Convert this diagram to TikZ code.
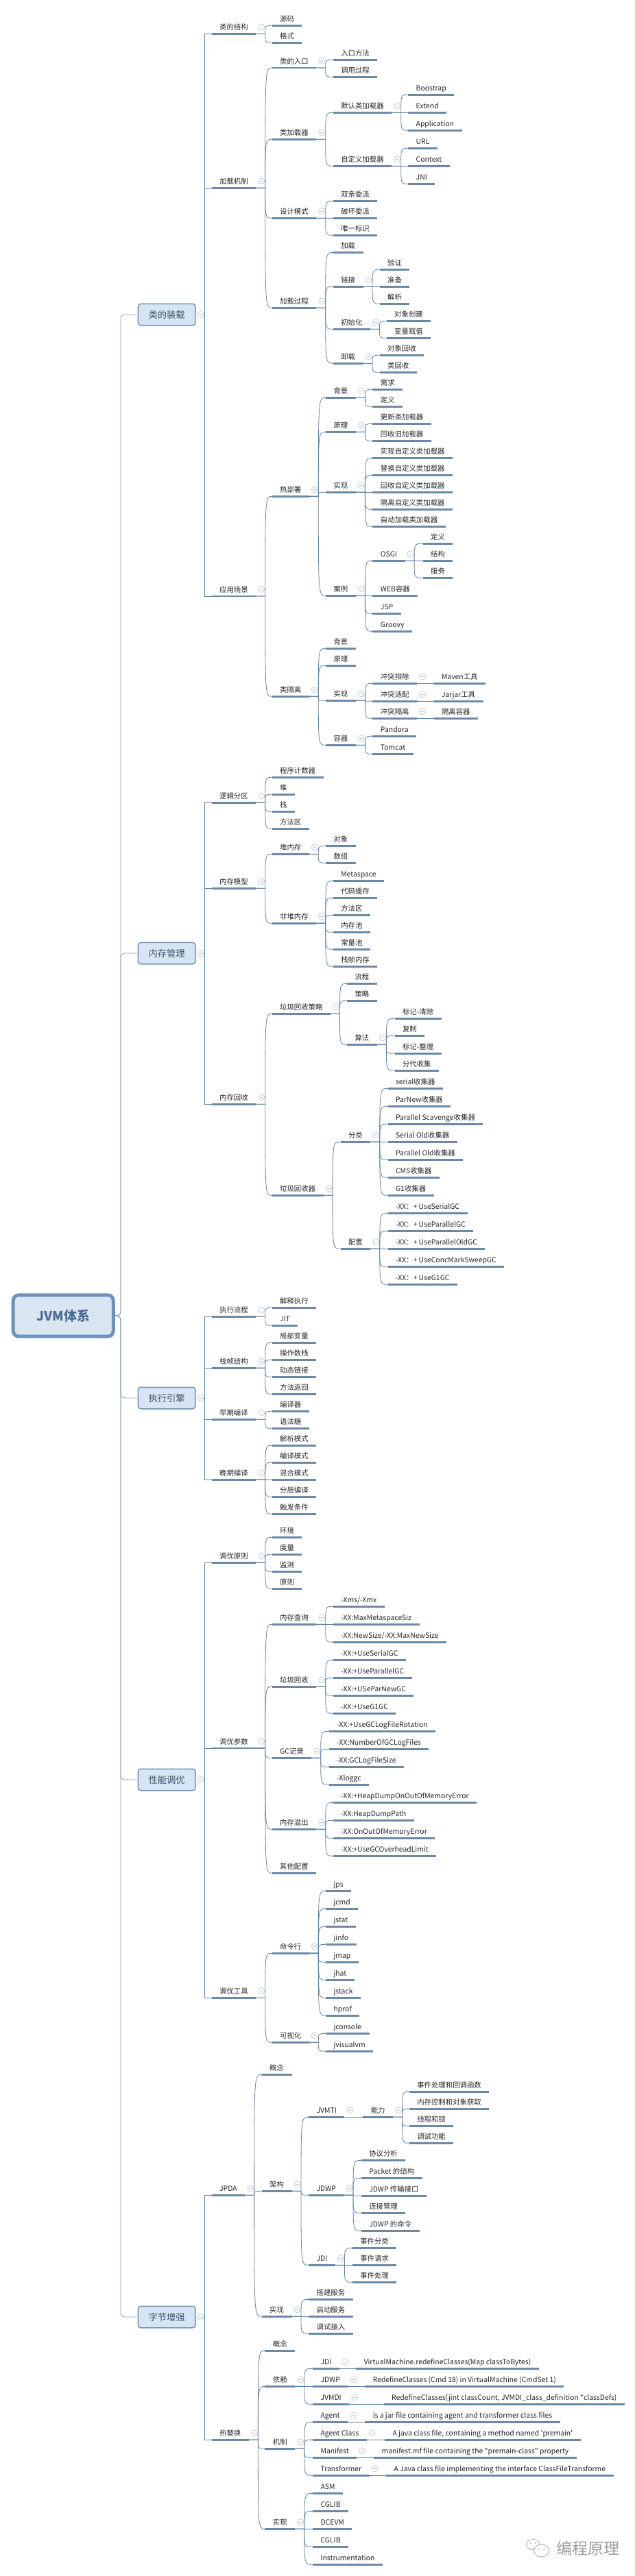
\documentclass[tikz,border=0pt]{standalone}
\usepackage{fontspec}
\setmainfont{Noto Sans CJK SC}
\newfontfamily\itemfont{Noto Sans CJK SC}
\usetikzlibrary{calc}

\definecolor{barblue}{HTML}{6B89A6}
\definecolor{linkblue}{HTML}{5F829F}
\definecolor{trunkblue}{HTML}{7F9DB8}
\definecolor{foldgrey}{HTML}{BCC6D0}
\definecolor{boxfill}{HTML}{D7E4F4}
\definecolor{boxline}{HTML}{6F92B4}
\definecolor{boxtext}{HTML}{3C5269}
\definecolor{rootfill}{HTML}{DAE5F2}
\definecolor{rootline}{HTML}{6D93BC}
\definecolor{roottext}{HTML}{4B6C92}
\definecolor{markgrey}{HTML}{9C9C9C}

\begin{document}
\begin{tikzpicture}[
    x=0.993pt, y=-1pt,
    foldmark/.style={circle, draw=foldgrey, fill=white, line width=0.7pt, minimum size=9pt, inner sep=0pt,
        path picture={\draw[foldgrey, line width=0.7pt] ([xshift=-2.2pt]path picture bounding box.center) -- ([xshift=2.2pt]path picture bounding box.center);}},
    item/.style={anchor=south west, outer sep=0pt, inner xsep=11.5pt, inner ysep=3.5pt, text height=9pt, text depth=2.5pt,
        font=\itemfont\fontsize{10.4pt}{12pt}\selectfont, text=black!85,
        append after command={(\tikzlastnode.south west) edge[line width=2.4pt, barblue] (\tikzlastnode.south east)}},
    fold/.style={append after command={node[foldmark] at ($(\tikzlastnode.south east)+(8,-10)$) {}}},
    topbox/.style={rounded corners=4pt, draw=boxline, fill=boxfill, line width=1.5pt, text=boxtext,
        minimum width=83.5pt, minimum height=31.5pt, inner sep=0pt, font=\fontsize{13.3pt}{16pt}\selectfont},
    curve/.style={to path={let \p1=(\tikztostart), \p2=(\tikztotarget) in
        -- (\x1+13.5pt,\y1) .. controls (\x1+13.5pt,\y2) .. (\p2)}},
    elbow/.style={to path={let \p1=(\tikztostart), \p2=(\tikztotarget) in
        -- (298.5pt,\y1) -- (298.5pt,\y2) -- (\p2)}},
    trunk/.style={to path={let \p1=(\tikztostart), \p2=(\tikztotarget) in
        -- (176pt,\y1) -- (176pt,\y2) -- (\p2)}},
    link/.style={linkblue, line width=0.8pt, every edge/.append style={curve}},
    firstlink/.style={linkblue, line width=0.8pt, every edge/.append style={elbow}},
    rootlink/.style={trunkblue, line width=0.8pt, every edge/.append style={trunk, rounded corners=6pt}}
]
    \useasboundingbox (0,0) rectangle (932.5,3759);

    % === Root ===
    \node[rounded corners=8pt, draw=rootline, fill=rootfill, line width=5pt, text=roottext, minimum width=146pt,
        minimum height=60.4pt, inner sep=0pt, font=\fontsize{19pt}{22pt}\selectfont\bfseries] (jvm) at (92.9,1920) {JVM体系};

    \node[topbox] (load) at (244.9,459) {类的装载};
    \node[topbox] (memory) at (244.9,1391) {内存管理};
    \node[topbox] (engine) at (244.9,2040) {执行引擎};
    \node[topbox] (tuning) at (244.9,2597) {性能调优};
    \node[topbox] (bytecode) at (244.9,3381) {字节增强};
    \draw[rootlink] (jvm.east) edge (load.west) edge (memory.west) edge (engine.west) edge (tuning.west) edge (bytecode.west);

    \node[foldmark] (loadFold) at ($(load.east)+(7,0)$) {};
    \node[foldmark] (memoryFold) at ($(memory.east)+(7,0)$) {};
    \node[foldmark] (engineFold) at ($(engine.east)+(7,0)$) {};
    \node[foldmark] (tuningFold) at ($(tuning.east)+(7,0)$) {};
    \node[foldmark] (bytecodeFold) at ($(bytecode.east)+(7,0)$) {};

    % === Class Loading ===
    \node[item, fold] (struct) at (310.8,49.3) {类的结构};
    \node[item, fold] (mech) at (310.8,274.3) {加载机制};
    \node[item, fold] (usage) at (310.8,870) {应用场景};
    \draw[firstlink] (loadFold.east) edge (struct.south west) edge (mech.south west) edge (usage.south west);

    \node[item] (source) at (399.4,37.3) {源码};
    \node[item] (format) at (399.4,62.3) {格式};
    \draw[link] (struct.south east) edge (source.south west) edge (format.south west);

    \node[item, fold] (entry) at (399.4,99) {类的入口};
    \node[item, fold] (loader) at (399.4,203.3) {类加载器};
    \node[item, fold] (pattern) at (399.4,318.3) {设计模式};
    \node[item, fold] (process) at (399.4,449.3) {加载过程};
    \draw[link] (mech.south east) edge (entry.south west) edge (loader.south west) edge (pattern.south west) edge (process.south west);

    \node[item] (entryMethod) at (489.2,87.3) {入口方法};
    \node[item] (entryCall) at (489.2,112.3) {调用过程};
    \draw[link] (entry.south east) edge (entryMethod.south west) edge (entryCall.south west);

    \node[item, fold] (defLoader) at (489.2,164.3) {默认类加载器};
    \node[item, fold] (ownLoader) at (489.2,242.3) {自定义加载器};
    \draw[link] (loader.south east) edge (defLoader.south west) edge (ownLoader.south west);

    \node[item] (boot) at (599.4,138.3) {Boostrap};
    \node[item] (extend) at (599.4,164.3) {Extend};
    \node[item] (app) at (599.4,190.3) {Application};
    \draw[link] (defLoader.south east) edge (boot.south west) edge (extend.south west) edge (app.south west);

    \node[item] (url) at (599.4,216.3) {URL};
    \node[item] (context) at (599.4,242.3) {Context};
    \node[item] (jni) at (599.4,268.3) {JNI};
    \draw[link] (ownLoader.south east) edge (url.south west) edge (context.south west) edge (jni.south west);

    \node[item] (parents) at (489.2,293.3) {双亲委派};
    \node[item] (breakParents) at (489.2,318.3) {破坏委派};
    \node[item] (uniqueId) at (489.2,343.3) {唯一标识};
    \draw[link] (pattern.south east) edge (parents.south west) edge (breakParents.south west) edge (uniqueId.south west);

    \node[item] (stepLoad) at (489.2,368.3) {加载};
    \node[item, fold] (stepLink) at (489.2,418.3) {链接};
    \node[item, fold] (stepInit) at (489.2,480.3) {初始化};
    \node[item, fold] (stepUnload) at (489.2,530.3) {卸载};
    \draw[link] (process.south east) edge (stepLoad.south west) edge (stepLink.south west) edge (stepInit.south west) edge (stepUnload.south west);

    \node[item] (verify) at (557.5,393.3) {验证};
    \node[item] (prepare) at (557.5,418.3) {准备};
    \node[item] (resolve) at (557.5,443.3) {解析};
    \draw[link] (stepLink.south east) edge (verify.south west) edge (prepare.south west) edge (resolve.south west);

    \node[item] (objCreate) at (567.7,468.3) {对象创建};
    \node[item] (varAssign) at (567.7,493.3) {变量赋值};
    \draw[link] (stepInit.south east) edge (objCreate.south west) edge (varAssign.south west);

    \node[item] (objFree) at (557.5,518.3) {对象回收};
    \node[item] (classFree) at (557.5,543.3) {类回收};
    \draw[link] (stepUnload.south east) edge (objFree.south west) edge (classFree.south west);

    \node[item, fold] (hot) at (399.4,724.3) {热部署};
    \node[item, fold] (isolate) at (399.4,1016.3) {类隔离};
    \draw[link] (usage.south east) edge (hot.south west) edge (isolate.south west);

    \node[item, fold] (hotBg) at (478.4,580.3) {背景};
    \node[item, fold] (hotTheory) at (478.4,630.3) {原理};
    \node[item, fold] (hotImpl) at (478.4,718.3) {实现};
    \node[item, fold] (hotCase) at (478.4,869.3) {案例};
    \draw[link] (hot.south east) edge (hotBg.south west) edge (hotTheory.south west) edge (hotImpl.south west) edge (hotCase.south west);

    \node[item] (need) at (547.3,568.3) {需求};
    \node[item] (define) at (547.3,593.3) {定义};
    \draw[link] (hotBg.south east) edge (need.south west) edge (define.south west);

    \node[item] (newLoader) at (547.3,618.3) {更新类加载器};
    \node[item] (oldLoader) at (547.3,643.3) {回收旧加载器};
    \draw[link] (hotTheory.south east) edge (newLoader.south west) edge (oldLoader.south west);

    \node[item] (implOwn) at (547.3,668.3) {实现自定义类加载器};
    \node[item] (swapOwn) at (547.3,693.3) {替换自定义类加载器};
    \node[item] (freeOwn) at (547.3,718.3) {回收自定义类加载器};
    \node[item] (isoOwn) at (547.3,743.3) {隔离自定义类加载器};
    \node[item] (autoLoad) at (547.3,768.3) {自动加载类加载器};
    \draw[link] (hotImpl.south east) edge (implOwn.south west) edge (swapOwn.south west) edge (freeOwn.south west) edge (isoOwn.south west) edge (autoLoad.south west);

    \node[item, fold] (osgi) at (547.3,818.3) {OSGI};
    \node[item] (web) at (547.3,869.3) {WEB容器};
    \node[item] (jsp) at (547.3,895.3) {JSP};
    \node[item] (groovy) at (547.3,921.3) {Groovy};
    \draw[link] (hotCase.south east) edge (osgi.south west) edge (web.south west) edge (jsp.south west) edge (groovy.south west);

    \node[item] (osgiDef) at (621,793.3) {定义};
    \node[item] (osgiStruct) at (621,818.3) {结构};
    \node[item] (osgiSvc) at (621,843.3) {服务};
    \draw[link] (osgi.south east) edge (osgiDef.south west) edge (osgiStruct.south west) edge (osgiSvc.south west);

    \node[item] (isoBg) at (478.4,946.3) {背景};
    \node[item] (isoTheory) at (478.4,971.3) {原理};
    \node[item, fold] (isoImpl) at (478.4,1022.3) {实现};
    \node[item, fold] (isoBox) at (478.4,1087.3) {容器};
    \draw[link] (isolate.south east) edge (isoBg.south west) edge (isoTheory.south west) edge (isoImpl.south west) edge (isoBox.south west);

    \node[item, fold] (clashOut) at (547.3,997.3) {冲突排除};
    \node[item, fold] (clashFit) at (547.3,1023.3) {冲突适配};
    \node[item, fold] (clashIso) at (547.3,1048.3) {冲突隔离};
    \draw[link] (isoImpl.south east) edge (clashOut.south west) edge (clashFit.south west) edge (clashIso.south west);

    \node[item] (maven) at (637,997.3) {Maven工具};
    \node[item] (jarjar) at (637,1023.3) {Jarjar工具};
    \node[item] (isoContainer) at (637,1048.3) {隔离容器};
    \draw[link] (clashOut.south east) edge (maven.south west);
    \draw[link] (clashFit.south east) edge (jarjar.south west);
    \draw[link] (clashIso.south east) edge (isoContainer.south west);

    \node[item] (pandora) at (547.3,1074.3) {Pandora};
    \node[item] (tomcat) at (547.3,1100.3) {Tomcat};
    \draw[link] (isoBox.south east) edge (pandora.south west) edge (tomcat.south west);

    % === Memory Management ===
    \node[item, fold] (logical) at (310.8,1171.3) {逻辑分区};
    \node[item, fold] (model) at (310.8,1296.3) {内存模型};
    \node[item, fold] (reclaim) at (310.8,1611.3) {内存回收};
    \draw[firstlink] (memoryFold.east) edge (logical.south west) edge (model.south west) edge (reclaim.south west);

    \node[item] (pc) at (399.4,1134.3) {程序计数器};
    \node[item] (heap) at (399.4,1159.3) {堆};
    \node[item] (stack) at (399.4,1184.3) {栈};
    \node[item] (methodArea) at (399.4,1209.3) {方法区};
    \draw[link] (logical.south east) edge (pc.south west) edge (heap.south west) edge (stack.south west) edge (methodArea.south west);

    \node[item, fold] (heapMem) at (399.4,1246.3) {堆内存};
    \node[item, fold] (offHeap) at (399.4,1347.3) {非堆内存};
    \draw[link] (model.south east) edge (heapMem.south west) edge (offHeap.south west);

    \node[item] (object) at (478.4,1234.3) {对象};
    \node[item] (array) at (478.4,1259.3) {数组};
    \draw[link] (heapMem.south east) edge (object.south west) edge (array.south west);

    \node[item] (meta) at (489.2,1285.3) {Metaspace};
    \node[item] (codeCache) at (489.2,1310.3) {代码缓存};
    \node[item] (offMethod) at (489.2,1335.3) {方法区};
    \node[item] (memPool) at (489.2,1360.3) {内存池};
    \node[item] (constPool) at (489.2,1385.3) {常量池};
    \node[item] (frameMem) at (489.2,1410.3) {栈帧内存};
    \draw[link] (offHeap.south east) edge (meta.south west) edge (codeCache.south west) edge (offMethod.south west) edge (memPool.south west) edge (constPool.south west) edge (frameMem.south west);

    \node[item, fold] (gcPolicy) at (399.4,1479.3) {垃圾回收策略};
    \node[item, fold] (collector) at (399.4,1744.3) {垃圾回收器};
    \draw[link] (reclaim.south east) edge (gcPolicy.south west) edge (collector.south west);

    \node[item] (gcFlow) at (509.6,1435.3) {流程};
    \node[item] (gcPlan) at (509.6,1460.3) {策略};
    \node[item, fold] (gcAlgo) at (509.6,1524.3) {算法};
    \draw[link] (gcPolicy.south east) edge (gcFlow.south west) edge (gcPlan.south west) edge (gcAlgo.south west);

    \node[item] (markSweep) at (579.6,1486.3) {标记-清除};
    \node[item] (gcCopy) at (579.6,1511.3) {复制};
    \node[item] (markCompact) at (579.6,1537.3) {标记-整理};
    \node[item] (genCollect) at (579.6,1562.3) {分代收集};
    \draw[link] (gcAlgo.south east) edge (markSweep.south west) edge (gcCopy.south west) edge (markCompact.south west) edge (genCollect.south west);

    \node[item, fold] (gcKinds) at (500,1666.3) {分类};
    \node[item, fold] (gcConfig) at (500,1822.3) {配置};
    \draw[link] (collector.south east) edge (gcKinds.south west) edge (gcConfig.south west);

    \node[item] (kSerial) at (569.5,1588.3) {serial收集器};
    \node[item] (kParNew) at (569.5,1614.3) {ParNew收集器};
    \node[item] (kScav) at (569.5,1640.3) {Parallel Scavenge收集器};
    \node[item] (kSerialOld) at (569.5,1666.3) {Serial Old收集器};
    \node[item] (kParOld) at (569.5,1692.3) {Parallel Old收集器};
    \node[item] (kCms) at (569.5,1718.3) {CMS收集器};
    \node[item] (kGone) at (569.5,1744.3) {G1收集器};
    \draw[link] (gcKinds.south east) edge (kSerial.south west) edge (kParNew.south west) edge (kScav.south west) edge (kSerialOld.south west) edge (kParOld.south west) edge (kCms.south west) edge (kGone.south west);

    \node[item] (cSerial) at (569.5,1770.3) {-XX：+ UseSerialGC};
    \node[item] (cParallel) at (569.5,1796.3) {-XX：+ UseParallelGC};
    \node[item] (cParOld) at (569.5,1822.3) {-XX：+ UseParallelOldGC};
    \node[item] (cCms) at (569.5,1848.3) {-XX：+ UseConcMarkSweepGC};
    \node[item] (cGone) at (569.5,1874.3) {-XX：+ UseG1GC};
    \draw[link] (gcConfig.south east) edge (cSerial.south west) edge (cParallel.south west) edge (cParOld.south west) edge (cCms.south west) edge (cGone.south west);

    % === Execution Engine ===
    \node[item, fold] (flow) at (310.8,1921.3) {执行流程};
    \node[item, fold] (frame) at (310.8,1996.3) {栈帧结构};
    \node[item, fold] (early) at (310.8,2071.3) {早期编译};
    \node[item, fold] (late) at (310.8,2159.3) {晚期编译};
    \draw[firstlink] (engineFold.east) edge (flow.south west) edge (frame.south west) edge (early.south west) edge (late.south west);

    \node[item] (interp) at (399.4,1908.3) {解释执行};
    \node[item] (jit) at (399.4,1934.3) {JIT};
    \draw[link] (flow.south east) edge (interp.south west) edge (jit.south west);

    \node[item] (localVar) at (399.4,1959.3) {局部变量};
    \node[item] (opStack) at (399.4,1984.3) {操作数栈};
    \node[item] (dynLink) at (399.4,2009.3) {动态链接};
    \node[item] (methodRet) at (399.4,2034.3) {方法返回};
    \draw[link] (frame.south east) edge (localVar.south west) edge (opStack.south west) edge (dynLink.south west) edge (methodRet.south west);

    \node[item] (compiler) at (399.4,2059.3) {编译器};
    \node[item] (sugar) at (399.4,2084.3) {语法糖};
    \draw[link] (early.south east) edge (compiler.south west) edge (sugar.south west);

    \node[item] (modeParse) at (399.4,2109.3) {解析模式};
    \node[item] (modeComp) at (399.4,2134.3) {编译模式};
    \node[item] (modeMix) at (399.4,2159.3) {混合模式};
    \node[item] (tiered) at (399.4,2184.3) {分层编译};
    \node[item] (trigger) at (399.4,2209.3) {触发条件};
    \draw[link] (late.south east) edge (modeParse.south west) edge (modeComp.south west) edge (modeMix.south west) edge (tiered.south west) edge (trigger.south west);

    % === Performance Tuning ===
    \node[item, fold] (rules) at (310.8,2280.3) {调优原则};
    \node[item, fold] (params) at (310.8,2551) {调优参数};
    \node[item, fold] (tools) at (310.8,2915.3) {调优工具};
    \draw[firstlink] (tuningFold.east) edge (rules.south west) edge (params.south west) edge (tools.south west);

    \node[item] (env) at (399.4,2243.3) {环境};
    \node[item] (measure) at (399.4,2268.3) {度量};
    \node[item] (monitor) at (399.4,2293.3) {监测};
    \node[item] (principle) at (399.4,2318.3) {原则};
    \draw[link] (rules.south east) edge (env.south west) edge (measure.south west) edge (monitor.south west) edge (principle.south west);

    \node[item, fold] (pMem) at (399.4,2370.3) {内存查询};
    \node[item, fold] (pGc) at (399.4,2461.3) {垃圾回收};
    \node[item, fold] (pLog) at (399.4,2565.3) {GC记录};
    \node[item, fold] (pOom) at (399.4,2669.3) {内存溢出};
    \node[item] (pOther) at (399.4,2733.3) {其他配置};
    \draw[link] (params.south east) edge (pMem.south west) edge (pGc.south west) edge (pLog.south west) edge (pOom.south west) edge (pOther.south west);

    \node[item] (xms) at (489.2,2344.3) {-Xms/-Xmx};
    \node[item] (maxMeta) at (489.2,2370.3) {-XX:MaxMetaspaceSiz};
    \node[item] (newSize) at (489.2,2396.3) {-XX:NewSize/-XX:MaxNewSize};
    \draw[link] (pMem.south east) edge (xms.south west) edge (maxMeta.south west) edge (newSize.south west);

    \node[item] (useSerial) at (489.2,2422.3) {-XX:+UseSerialGC};
    \node[item] (useParallel) at (489.2,2448.3) {-XX:+UseParallelGC};
    \node[item] (useParNew) at (489.2,2474.3) {-XX:+USeParNewGC};
    \node[item] (useGone) at (489.2,2500.3) {-XX:+UseG1GC};
    \draw[link] (pGc.south east) edge (useSerial.south west) edge (useParallel.south west) edge (useParNew.south west) edge (useGone.south west);

    \node[item] (logRotate) at (483.2,2526.3) {-XX:+UseGCLogFileRotation};
    \node[item] (logCount) at (483.2,2552.3) {-XX:NumberOfGCLogFiles};
    \node[item] (logSize) at (483.2,2578.3) {-XX:GCLogFileSize};
    \node[item] (logGc) at (483.2,2604.3) {-Xloggc};
    \draw[link] (pLog.south east) edge (logRotate.south west) edge (logCount.south west) edge (logSize.south west) edge (logGc.south west);

    \node[item] (dumpOn) at (489.2,2630.3) {-XX:+HeapDumpOnOutOfMemoryError};
    \node[item] (dumpPath) at (489.2,2656.3) {-XX:HeapDumpPath};
    \node[item] (onOom) at (489.2,2682.3) {-XX:OnOutOfMemoryError};
    \node[item] (overhead) at (489.2,2708.3) {-XX:+UseGCOverheadLimit};
    \draw[link] (pOom.south east) edge (dumpOn.south west) edge (dumpPath.south west) edge (onOom.south west) edge (overhead.south west);

    \node[item, fold] (cmdLine) at (399.4,2850.3) {命令行};
    \node[item, fold] (visual) at (399.4,2980.3) {可视化};
    \draw[link] (tools.south east) edge (cmdLine.south west) edge (visual.south west);

    \node[item] (jps) at (478.4,2759.3) {jps};
    \node[item] (jcmd) at (478.4,2785.3) {jcmd};
    \node[item] (jstat) at (478.4,2811.3) {jstat};
    \node[item] (jinfo) at (478.4,2837.3) {jinfo};
    \node[item] (jmap) at (478.4,2863.3) {jmap};
    \node[item] (jhat) at (478.4,2889.3) {jhat};
    \node[item] (jstack) at (478.4,2915.3) {jstack};
    \node[item] (hprof) at (478.4,2941.3) {hprof};
    \draw[link] (cmdLine.south east) edge (jps.south west) edge (jcmd.south west) edge (jstat.south west) edge (jinfo.south west) edge (jmap.south west) edge (jhat.south west) edge (jstack.south west) edge (hprof.south west);

    \node[item] (jconsole) at (478.4,2967.3) {jconsole};
    \node[item] (jvisualvm) at (478.4,2993.3) {jvisualvm};
    \draw[link] (visual.south east) edge (jconsole.south west) edge (jvisualvm.south west);

    % === Bytecode Enhancement ===
    \node[item, fold] (jpda) at (310.8,3203.3) {JPDA};
    \node[item, fold] (hotSwap) at (310.8,3560.3) {热替换};
    \draw[firstlink] (bytecodeFold.east) edge (jpda.south west) edge (hotSwap.south west);

    \node[item] (jpdaIdea) at (384.4,3027.3) {概念};
    \node[item, fold] (jpdaArch) at (384.4,3197.3) {架构};
    \node[item, fold] (jpdaImpl) at (384.4,3380.3) {实现};
    \draw[link] (jpda.south east) edge (jpdaIdea.south west) edge (jpdaArch.south west) edge (jpdaImpl.south west);

    \node[item, fold] (jvmti) at (453.3,3089.3) {JVMTI};
    \node[item, fold] (jdwp) at (453.3,3203.3) {JDWP};
    \node[item, fold] (jdi) at (453.3,3305.3) {JDI};
    \draw[link] (jpdaArch.south east) edge (jvmti.south west) edge (jdwp.south west) edge (jdi.south west);

    \node[item, fold] (ability) at (533,3089.3) {能力};
    \draw[link] (jvmti.south east) edge (ability.south west);

    \node[item] (abEvent) at (601,3052.3) {事件处理和回调函数};
    \node[item] (abMem) at (601,3077.3) {内存控制和对象获取};
    \node[item] (abLock) at (601,3102.3) {线程和锁};
    \node[item] (abDebug) at (601,3127.3) {调试功能};
    \draw[link] (ability.south east) edge (abEvent.south west) edge (abMem.south west) edge (abLock.south west) edge (abDebug.south west);

    \node[item] (wireProto) at (530.5,3152.3) {协议分析};
    \node[item] (wirePacket) at (530.5,3178.3) {Packet 的结构};
    \node[item] (wirePort) at (530.5,3204.3) {JDWP 传输接口};
    \node[item] (wireConn) at (530.5,3229.3) {连接管理};
    \node[item] (wireCmd) at (530.5,3255.3) {JDWP 的命令};
    \draw[link] (jdwp.south east) edge (wireProto.south west) edge (wirePacket.south west) edge (wirePort.south west) edge (wireConn.south west) edge (wireCmd.south west);

    \node[item] (evKind) at (517.4,3280.3) {事件分类};
    \node[item] (evAsk) at (517.4,3305.3) {事件请求};
    \node[item] (evDo) at (517.4,3330.3) {事件处理};
    \draw[link] (jdi.south east) edge (evKind.south west) edge (evAsk.south west) edge (evDo.south west);

    \node[item] (buildSvc) at (453.3,3355.3) {搭建服务};
    \node[item] (startSvc) at (453.3,3380.3) {启动服务};
    \node[item] (debugIn) at (453.3,3405.3) {调试接入};
    \draw[link] (jpdaImpl.south east) edge (buildSvc.south west) edge (startSvc.south west) edge (debugIn.south west);

    \node[item] (swapIdea) at (389.2,3430.3) {概念};
    \node[item, fold] (swapDep) at (389.2,3482.3) {依赖};
    \node[item, fold] (swapMech) at (389.2,3573.3) {机制};
    \node[item, fold] (swapImpl) at (389.2,3690.3) {实现};
    \draw[link] (hotSwap.south east) edge (swapIdea.south west) edge (swapDep.south west) edge (swapMech.south west) edge (swapImpl.south west);

    \node[item, fold] (depJdi) at (459.3,3456.3) {JDI};
    \node[item, fold] (depJdwp) at (459.3,3482.3) {JDWP};
    \node[item, fold] (depJvmdi) at (459.3,3508.3) {JVMDI\hspace{27pt}};
    \draw[link] (swapDep.south east) edge (depJdi.south west) edge (depJdwp.south west) edge (depJvmdi.south west);

    \node[item] (redefA) at (522.8,3456.3) {VirtualMachine.redefineClasses(Map classToBytes)};
    \node[item] (redefB) at (536,3482.3) {RedefineClasses (Cmd 18) in VirtualMachine (CmdSet 1)};
    \node[item] (redefC) at (563.5,3508.3) {RedefineClasses(jint classCount, JVMDI\_class\_definition *classDefs)};
    \draw[link] (depJdi.south east) edge (redefA.south west);
    \draw[link] (depJdwp.south east) edge (redefB.south west);
    \draw[link] (depJvmdi.south east) edge (redefC.south west);

    \node[item, fold] (agent) at (459.3,3534.3) {Agent};
    \node[item, fold] (agentClass) at (459.3,3560.3) {Agent Class};
    \node[item, fold] (manifest) at (459.3,3586.3) {Manifest};
    \node[item, fold] (transformer) at (459.3,3612.3) {Transformer};
    \draw[link] (swapMech.south east) edge (agent.south west) edge (agentClass.south west) edge (manifest.south west) edge (transformer.south west);

    \node[item] (agentDoc) at (536,3534.3) {is a jar file containing agent and transformer class files};
    \node[item] (classDoc) at (565,3560.3) {A java class file, containing a method named 'premain'};
    \node[item] (manifestDoc) at (549,3586.3) {manifest.mf file containing the "premain-class" property};
    \node[item] (transDoc) at (567,3612.3) {A Java class file implementing the interface ClassFileTransforme};
    \draw[link] (agent.south east) edge (agentDoc.south west);
    \draw[link] (agentClass.south east) edge (classDoc.south west);
    \draw[link] (manifest.south east) edge (manifestDoc.south west);
    \draw[link] (transformer.south east) edge (transDoc.south west);

    \node[item] (asm) at (459.3,3638.3) {ASM};
    \node[item] (cglibA) at (459.3,3664.3) {CGLIB};
    \node[item] (dcevm) at (459.3,3690.3) {DCEVM};
    \node[item] (cglibB) at (459.3,3716.3) {CGLIB};
    \node[item] (instr) at (459.3,3742.3) {Instrumentation};
    \draw[link] (swapImpl.south east) edge (asm.south west) edge (cglibA.south west) edge (dcevm.south west) edge (cglibB.south west) edge (instr.south west);

    % === Watermark ===
    \node[markgrey, font=\fontsize{23pt}{26pt}\selectfont, inner sep=0pt] (markText) at (863.5,3719) {编程原理};
    \draw[markgrey, line width=0.7pt, fill=white] (783,3713) ellipse (10 and 7.5);
    \draw[markgrey, line width=0.7pt, fill=white] (795,3722) ellipse (11 and 9);
    \fill[markgrey] (779,3711) circle (0.9) (786,3711) circle (0.9) (791,3720) circle (0.9) (799,3720) circle (0.9);

\end{tikzpicture}
\end{document}
